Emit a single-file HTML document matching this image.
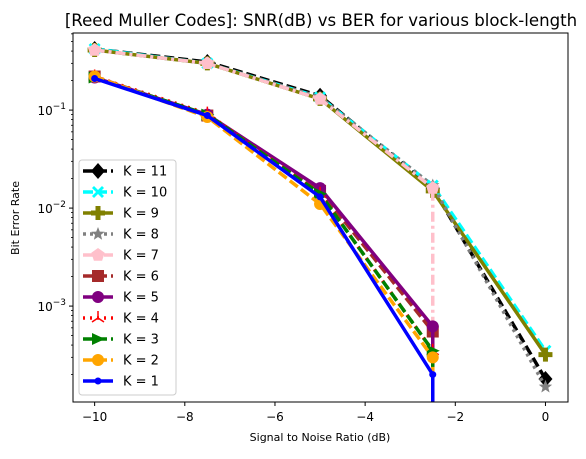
<!DOCTYPE html>
<html><head><meta charset="utf-8"><style>
body{margin:0;background:#fff;font-family:"Liberation Sans","DejaVu Sans",sans-serif}
svg text{font-family:"DejaVu Sans","Liberation Sans",sans-serif}
</style></head><body>
<svg id="chart" width="586" height="454" viewBox="0 0 586 454" xmlns="http://www.w3.org/2000/svg">
<defs><clipPath id="clip"><rect x="73" y="0" width="495" height="402"/></clipPath></defs>
<text x="321" y="26" font-size="16.6" text-anchor="middle" fill="#000">[Reed Muller Codes]: SNR(dB) vs BER for various block-length</text>
<text x="320" y="441" font-size="11" text-anchor="middle">Signal to Noise Ratio (dB)</text>
<text transform="translate(19,218) rotate(-90)" font-size="11" text-anchor="middle">Bit Error Rate</text>
<g id="plot" clip-path="url(#clip)"></g>
<rect x="73" y="33" width="495" height="369" fill="none" stroke="#000" stroke-width="1"/>
<g id="axes"></g>
<g id="legend"></g>
</svg>
<script>
const snr = [-10, -7.5, -5, -2.5, 0];
const labels = ["K = 11","K = 10","K = 9","K = 8","K = 7","K = 6","K = 5","K = 4","K = 3","K = 2","K = 1"];
const k11 = [0.42, 0.31, 0.14, 0.016, 0.00018];
const k10 = [0.42, 0.30, 0.135, 0.017, 0.00035];
const k9  = [0.41, 0.30, 0.13, 0.015, 0.00032];
const k8  = [0.41, 0.30, 0.135, 0.017, 0.00015];
const k7  = [0.41, 0.30, 0.13, 0.016, 0];
const k6  = [0.22, 0.088, 0.015, 0.00055, 0];
const k5  = [0.215, 0.09, 0.016, 0.00062, 0];
const k4  = [0.22, 0.092, 0.014, 0.00035, 0];
const k3  = [0.215, 0.09, 0.014, 0.00035, 0];
const k2  = [0.22, 0.085, 0.011, 0.0003, 0];
const k1  = [0.21, 0.088, 0.013, 0.0002, 0];
const xTicks = [-10, -8, -6, -4, -2, 0];
const yTicks = [-1, -2, -3];

const X0=73,X1=568,Y0=33,Y1=402;
const xmin=-10.48,xmax=0.5;
const lmax=Math.log10(0.612),lmin=Math.log10(1.05e-4);
function sx(v){return X0+(v-xmin)/(xmax-xmin)*(X1-X0);}
function sy(v){if(v<=0)return Y1+5;return Y0+(lmax-Math.log10(v))/(lmax-lmin)*(Y1-Y0);}
const NS="http://www.w3.org/2000/svg";
function mk(tag,attrs,parent){const e=document.createElementNS(NS,tag);for(const k in attrs)e.setAttribute(k,attrs[k]);parent.appendChild(e);return e;}

const styles=[
 {c:"#000000",d:"10 4",m:"D"},{c:"#00ffff",d:"10 4",m:"X"},{c:"#808000",d:"",m:"P"},
 {c:"#808080",d:"3 4",m:"*"},{c:"#ffc0cb",d:"10 4 3 4",m:"p"},{c:"#a52a2a",d:"10 4",m:"s"},
 {c:"#800080",d:"",m:"o"},{c:"#ff0000",d:"2 5",m:"2"},{c:"#008000",d:"10 4",m:">"},
 {c:"#ffa500",d:"10 4",m:"O"},{c:"#0000ff",d:"",m:"."}];
const series=[k11,k10,k9,k8,k7,k6,k5,k4,k3,k2,k1];

function marker(type,x,y,c,g){
  const r=6;let e;
  if(type==="D")e=mk("polygon",{points:`${x},${y-8} ${x+7},${y} ${x},${y+8} ${x-7},${y}`},g);
  else if(type==="X"){e=mk("path",{d:`M${x-6} ${y-4}L${x-4} ${y-6}L${x} ${y-2}L${x+4} ${y-6}L${x+6} ${y-4}L${x+2} ${y}L${x+6} ${y+4}L${x+4} ${y+6}L${x} ${y+2}L${x-4} ${y+6}L${x-6} ${y+4}L${x-2} ${y}Z`},g);}
  else if(type==="P")e=mk("path",{d:`M${x-2.5} ${y-7}h5v4.5h4.5v5h-4.5v4.5h-5v-4.5h-4.5v-5h4.5Z`},g);
  else if(type==="*"){let p=[];for(let i=0;i<10;i++){const a=-Math.PI/2+i*Math.PI/5,rr=i%2?3:7;p.push((x+rr*Math.cos(a)).toFixed(1)+","+(y+rr*Math.sin(a)).toFixed(1));}e=mk("polygon",{points:p.join(" ")},g);}
  else if(type==="p"){let p=[];for(let i=0;i<5;i++){const a=-Math.PI/2+i*2*Math.PI/5;p.push((x+7*Math.cos(a)).toFixed(1)+","+(y+7*Math.sin(a)).toFixed(1));}e=mk("polygon",{points:p.join(" ")},g);}
  else if(type==="s")e=mk("rect",{x:x-6,y:y-6,width:12,height:12},g);
  else if(type==="o"||type==="O")e=mk("circle",{cx:x,cy:y,r:r},g);
  else if(type===".")e=mk("circle",{cx:x,cy:y,r:3.5},g);
  else if(type===">")e=mk("polygon",{points:`${x+7},${y} ${x-6},${y-6} ${x-6},${y+6}`},g);
  else if(type==="2"){e=mk("path",{d:`M${x} ${y}V${y-7}M${x} ${y}L${x-6} ${y+4}M${x} ${y}L${x+6} ${y+4}`,stroke:c,"stroke-width":1.5,fill:"none"},g);return;}
  e.setAttribute("fill",c);
  
  
}

const plot=document.getElementById("plot");
series.forEach((s,i)=>{
  const st=styles[i];
  const g=mk("g",{},plot);
  
  
  let pts=[];
  for(let j=0;j<snr.length;j++){
    if(s[j]>0)pts.push([sx(snr[j]),sy(s[j])]);
    else {pts.push([pts[pts.length-1][0],Y1+5]);break;}
  }
  const pl=mk("polyline",{points:pts.map(p=>p.join(",")).join(" "),fill:"none",stroke:st.c,"stroke-width":3.5,"stroke-dasharray":st.d},g);
  
  
  for(let j=0;j<snr.length;j++) if(s[j]>0) marker(st.m,sx(snr[j]),sy(s[j]),st.c,g);
});

const axes=document.getElementById("axes");
xTicks.forEach(t=>{
  const x=sx(t);
  const l=mk("line",{x1:x,x2:x,y1:Y1,y2:Y1+4,stroke:"#000"},axes);
  
  const tx=mk("text",{x:x,y:Y1+19,"font-size":"12","text-anchor":"middle"},axes);
  tx.textContent=(t<0?"\u2212"+(-t):""+t);
  
});
yTicks.forEach(t=>{
  const y=sy(Math.pow(10,t));
  const l=mk("line",{x1:X0-4,x2:X0,y1:y,y2:y,stroke:"#000"},axes);
  
  const tx=mk("text",{x:X0-7,y:y+5,"font-size":"12","text-anchor":"end"},axes);
  tx.innerHTML="10<tspan dy='-6' font-size='9'>\u2212"+(-t)+"</tspan>";
  
  for(let m=2;m<10;m++){
    const ym=sy(m*Math.pow(10,t));
    if(ym>Y0&&ym<Y1){const mm=mk("line",{x1:X0-2,x2:X0,y1:ym,y2:ym,stroke:"#000","stroke-width":0.8},axes);
    }
  }
});
for(let m=2;m<10;m++){const ym=sy(m*1e-4);if(ym>Y0&&ym<Y1){const mm=mk("line",{x1:X0-2,x2:X0,y1:ym,y2:ym,stroke:"#000","stroke-width":0.8},axes);}}

const leg=document.getElementById("legend");
const box=mk("rect",{x:79,y:160,width:97,height:235,rx:3,fill:"#fff","fill-opacity":0.8,stroke:"#ccc"},leg);

labels.forEach((lb,i)=>{
  const y=171+i*21,st=styles[i];
  const g=mk("g",{},leg);
  
  mk("line",{x1:83,x2:113,y1:y,y2:y,stroke:st.c,"stroke-width":3.5,"stroke-dasharray":st.d},g);
  marker(st.m,98,y,st.c,g);
  const t=mk("text",{x:123,y:y+4.5,"font-size":"13"},g);t.textContent=lb;
});
</script>
</body></html>
